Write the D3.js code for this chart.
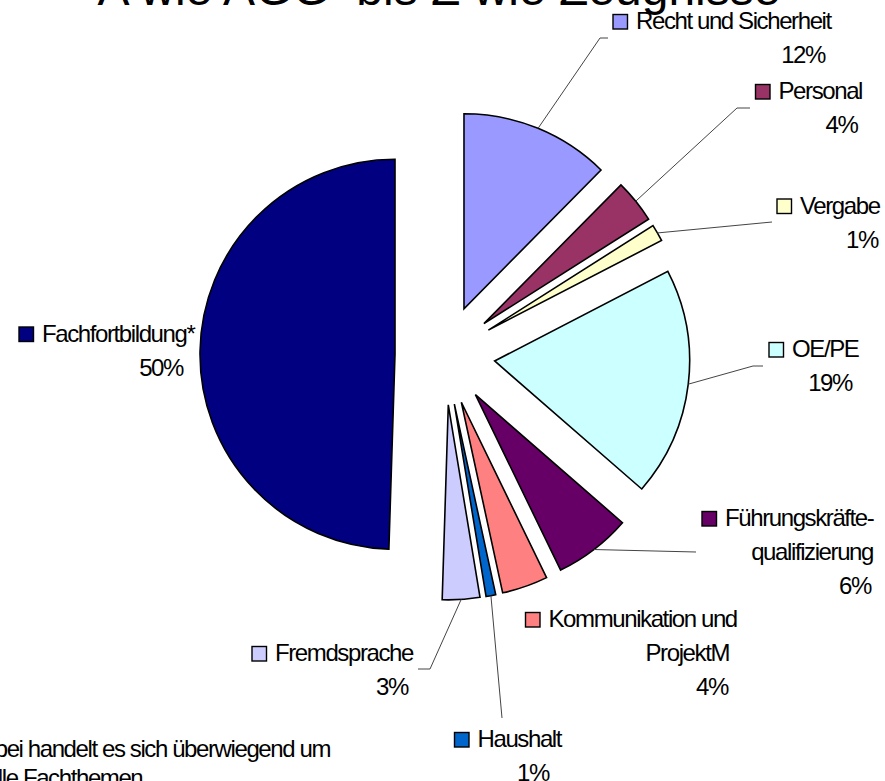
<!DOCTYPE html>
<html lang="de">
<head>
<meta charset="utf-8">
<title>A wie AGG bis Z wie Zeugnisse</title>
<script src="https://cdn.jsdelivr.net/npm/d3@7"></script>
<style>
    html, body { margin: 0; padding: 0; background: #fff; overflow: hidden; }
    svg text { font-family: "Liberation Sans", Arial, sans-serif; fill: #000; }
</style>
</head>
<body>
<script>
    // Daten (Anteile in %), Reihenfolge im Uhrzeigersinn ab 12 Uhr
    var categories = ["Recht und Sicherheit", "Personal", "Vergabe", "OE/PE",
        "Führungskräfte-\nqualifizierung", "Kommunikation und\nProjektM",
        "Haushalt", "Fremdsprache", "Fachfortbildung*"];
    var values = [12.4, 3.6, 1.4, 19.0, 6.4, 3.8, 0.8, 3.1, 49.5];
    var colors = ["#9999FF", "#993366", "#FFFFCC", "#CCFFFF", "#660066",
        "#FF8080", "#0066CC", "#CCCCFF", "#000080"];

    var title = "A wie AGG  bis Z wie Zeugnisse";
    var footnote = ["*Dabei handelt es sich überwiegend um", "spezielle Fachthemen"];

    // Lage der Beschriftungen (Kästchen links, erste Grundlinie, rechte Kante der Folgezeilen, Führungslinie)
    var labelLayout = [
        {sx: 613, y: 29, rx: [825], lead: [[600, 38], [608, 38]]},
        {sx: 755.5, y: 99, rx: [857.5], lead: [[737, 108], [750, 108]]},
        {sx: 777, y: 213.5, rx: [878], lead: [[772, 222]]},
        {sx: 769, y: 357, rx: [852], lead: [[753, 366], [763, 366]]},
        {sx: 702, y: 526, rx: [873, 871], lead: [[696, 552]]},
        {sx: 525.5, y: 627, rx: [729, 728], lead: []},
        {sx: 454.5, y: 747, rx: [549], lead: [[502, 718]]},
        {sx: 252, y: 661, rx: [408], lead: [[430, 669], [418, 669]]},
        {sx: 19, y: 341.5, rx: [183], lead: []}
    ];

    function main() {
        var width = 885, height = 781;
        var cx = 445, cy = 355, radius = 195, explode = 50, lineH = 34;

        var svg = d3.select("body").append("svg")
            .attr("width", width)
            .attr("height", height);

        // Titel (oben abgeschnitten wie im Original)
        svg.append("text")
            .attr("x", 439)
            .attr("y", 5)
            .attr("text-anchor", "middle")
            .style("font-size", "48px")
            .style("white-space", "pre")
            .text(title);

        var total = d3.sum(values);
        var data = values.map(function (v, i) {
            return {name: categories[i], value: v, color: colors[i], layout: labelLayout[i]};
        });

        var pie = d3.pie().sort(null).value(function (d) { return d.value; }).startAngle(0).endAngle(2 * Math.PI);
        var arc = d3.arc().innerRadius(0).outerRadius(radius);
        var arcs = pie(data);

        function offset(d, r) {
            var a = (d.startAngle + d.endAngle) / 2;
            return [Math.sin(a) * r, -Math.cos(a) * r];
        }

        var g = svg.append("g").attr("transform", "translate(" + cx + "," + cy + ")");

        // Führungslinien
        arcs.forEach(function (d) {
            var pts = d.data.layout.lead;
            if (!pts.length) return;
            var o = offset(d, explode), p = offset(d, radius);
            var start = [cx + o[0] + p[0], cy + o[1] + p[1]];
            svg.append("path")
                .attr("d", d3.line()([start].concat(pts)))
                .attr("fill", "none")
                .attr("stroke", "#444")
                .attr("stroke-width", 1);
        });

        // Segmente (explodiert)
        g.selectAll("path.slice")
            .data(arcs)
            .enter().append("path")
            .attr("class", "slice")
            .attr("transform", function (d) {
                var o = offset(d, explode);
                return "translate(" + o[0] + "," + o[1] + ")";
            })
            .attr("d", arc)
            .attr("fill", function (d) { return d.data.color; })
            .attr("stroke", "#000")
            .attr("stroke-width", 1.6)
            .attr("stroke-linejoin", "miter");

        // Beschriftungen
        arcs.forEach(function (d) {
            var L = d.data.layout;
            var lines = d.data.name.split("\n");
            lines.push(Math.round(d.data.value / total * 100 + 1e-9) + "%");

            svg.append("rect")
                .attr("x", L.sx)
                .attr("y", L.y - 14.5)
                .attr("width", 14.5)
                .attr("height", 14.5)
                .attr("fill", d.data.color)
                .attr("stroke", "#000")
                .attr("stroke-width", 1.4);

            lines.forEach(function (t, k) {
                var txt = svg.append("text")
                    .attr("y", L.y + k * lineH)
                    .style("font-size", "24px")
                    .style("letter-spacing", "-1.4px")
                    .text(t);
                if (k === 0) {
                    txt.attr("x", L.sx + 23);
                } else {
                    txt.attr("x", L.rx[k - 1]).attr("text-anchor", "end");
                }
            });
        });

        // Fußnote (links abgeschnitten)
        var f1 = svg.append("text")
            .attr("x", 330)
            .attr("y", 757)
            .attr("text-anchor", "end")
            .style("font-size", "24px")
            .style("letter-spacing", "-1.4px")
            .text(footnote[0]);
        var fx = f1.node().getBBox().x;
        svg.append("text")
            .attr("x", fx - 22)
            .attr("y", 786)
            .style("font-size", "24px")
            .style("letter-spacing", "-1.4px")
            .text(footnote[1]);
    }

    window.onload = function () {
        main();
    };
</script>
</body>
</html>
